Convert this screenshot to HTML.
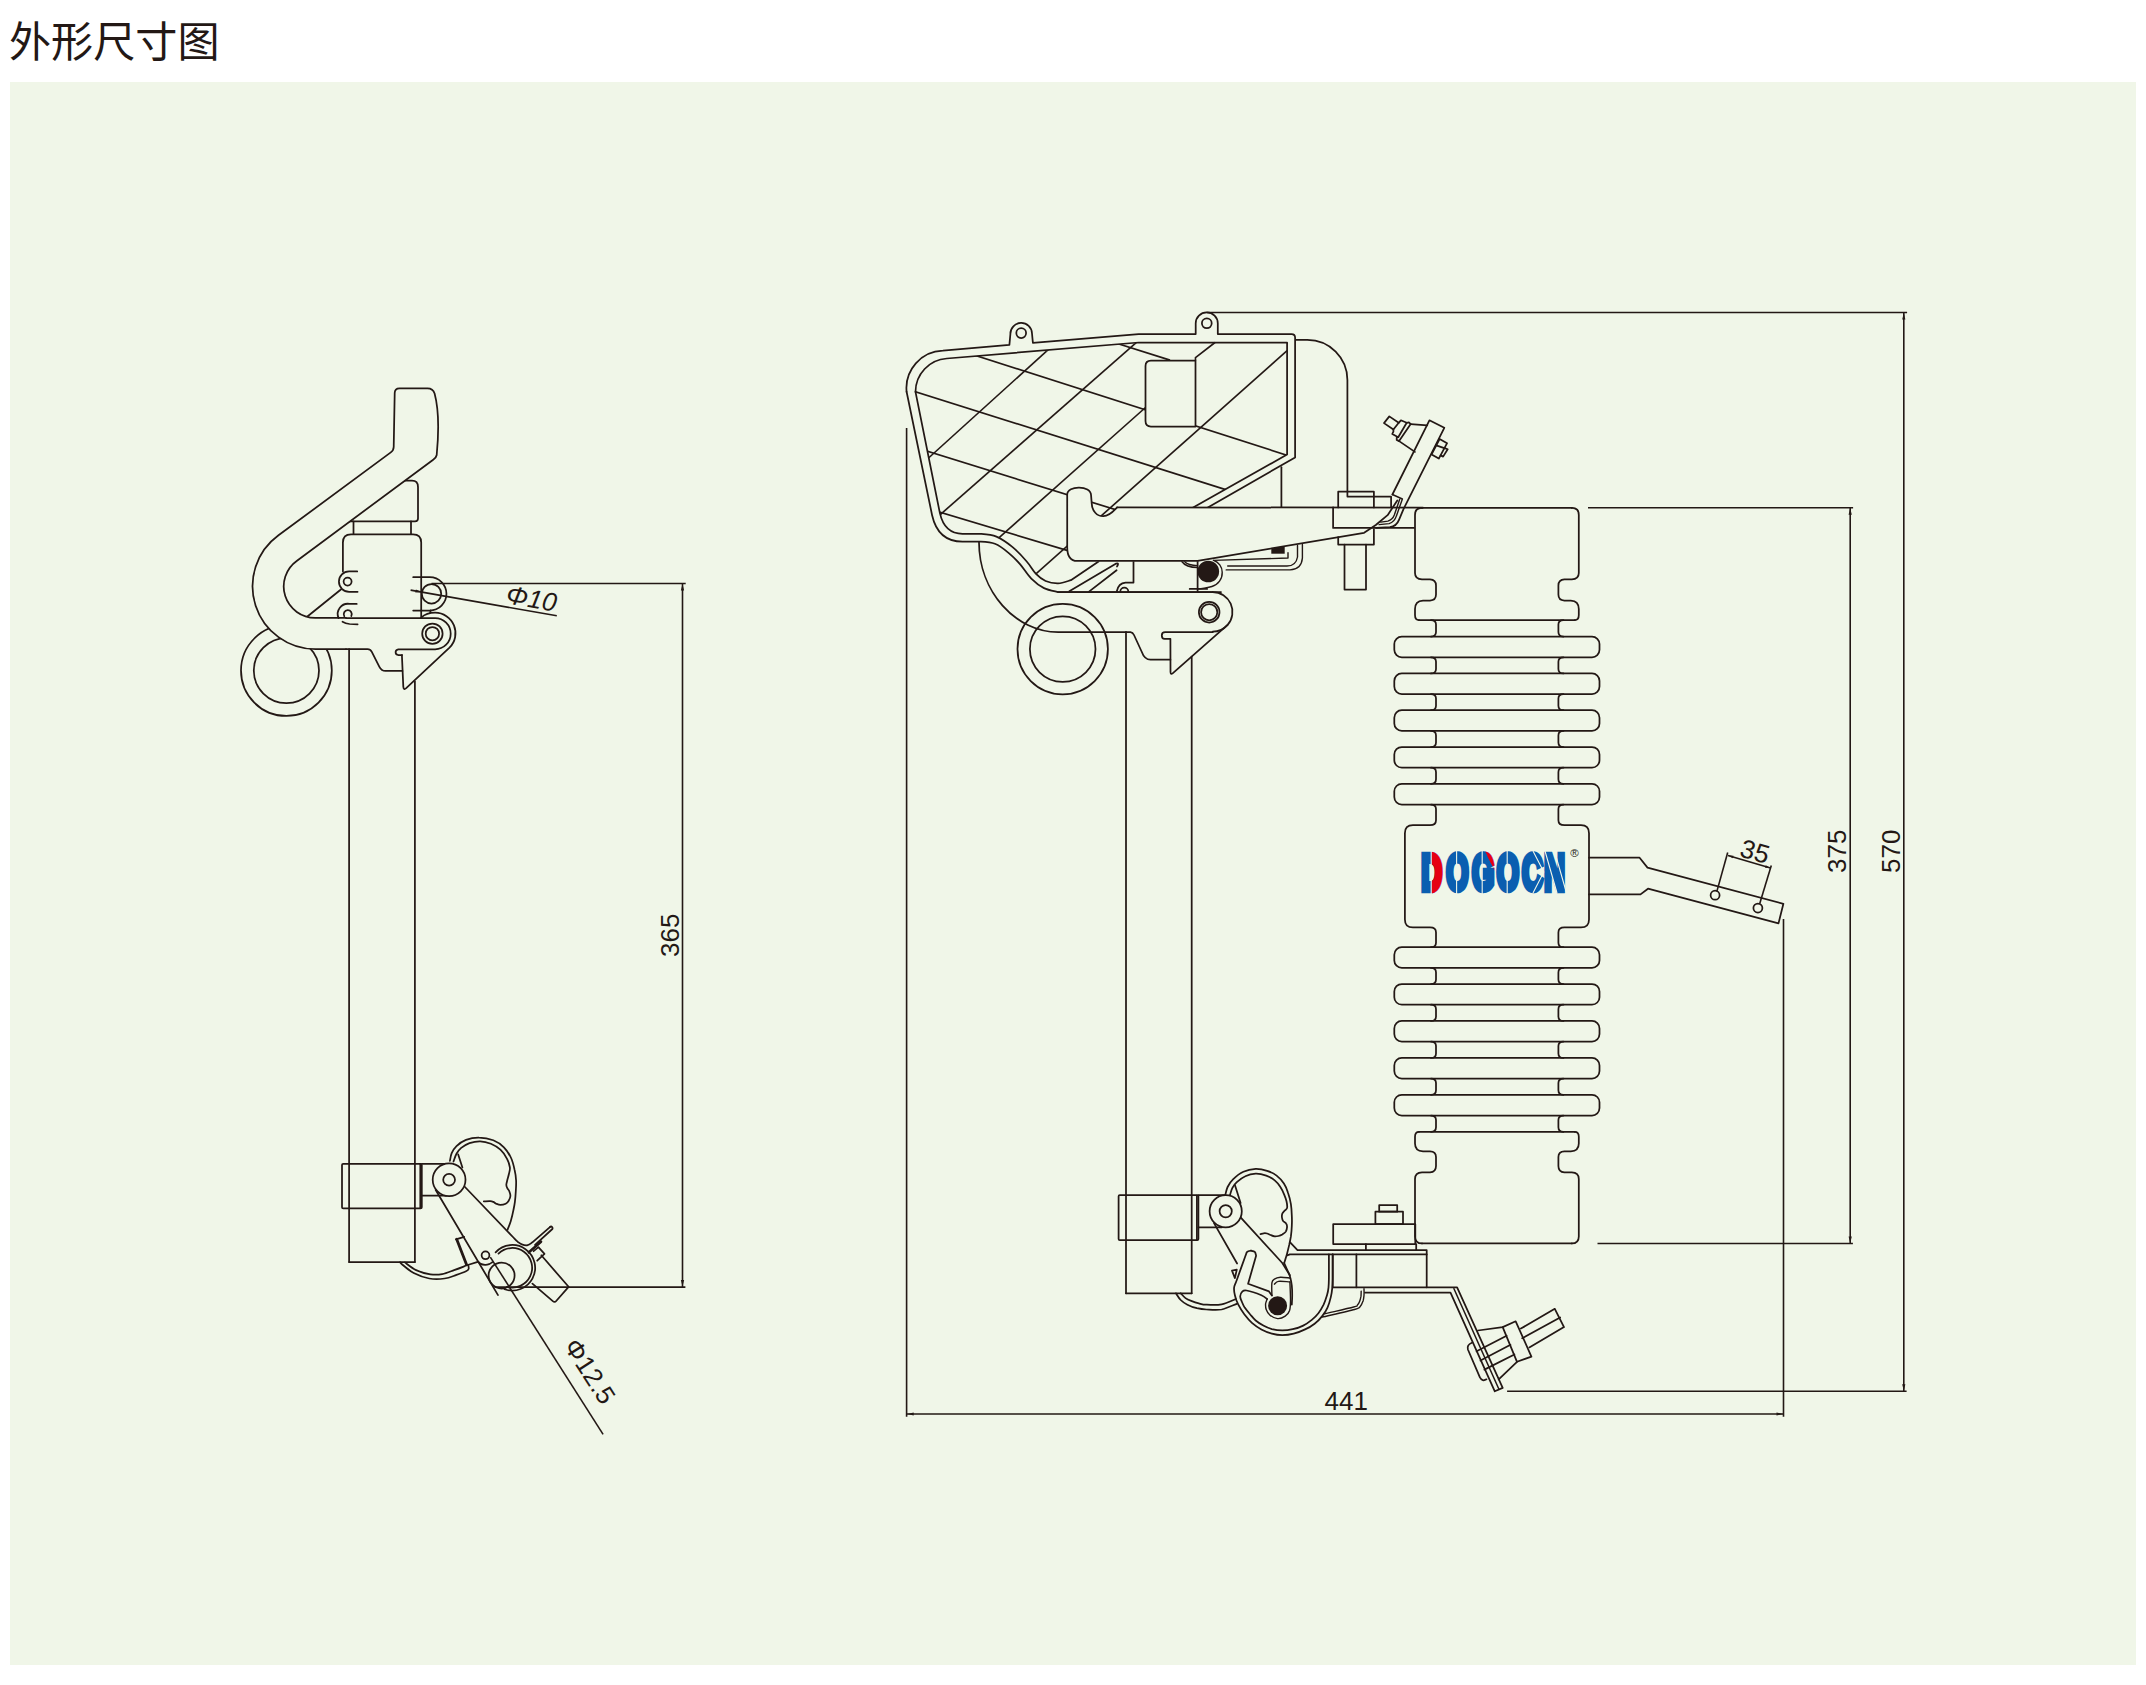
<!DOCTYPE html>
<html lang="zh-CN">
<head>
<meta charset="utf-8">
<title>外形尺寸图</title>
<style>
html,body{margin:0;padding:0;background:#fff;}
body{width:2146px;height:1685px;overflow:hidden;position:relative;font-family:"Liberation Sans","Noto Sans CJK SC",sans-serif;}
h1{position:absolute;left:9px;top:12.8px;margin:0;font-size:42.1px;line-height:60px;font-weight:400;color:#231815;letter-spacing:0;white-space:nowrap;font-family:"Liberation Sans","Noto Sans CJK SC",sans-serif;}
.panel{position:absolute;left:10.4px;top:82.2px;width:2125.8px;height:1583px;background:#f0f6e8;}
svg{position:absolute;left:0;top:0;}
.l{fill:none;stroke:#231815;stroke-width:1.75;stroke-linecap:round;stroke-linejoin:round;}
.w{fill:#f0f6e8;stroke:#231815;stroke-width:1.75;stroke-linecap:round;stroke-linejoin:round;}
.n{fill:#f0f6e8;stroke:none;}
.h{fill:none;stroke:#231815;stroke-width:1.65;}
.d{fill:none;stroke:#231815;stroke-width:1.6;}
.th{fill:none;stroke:#231815;stroke-width:1.4;stroke-linecap:round;stroke-linejoin:round;}
.k{fill:#231815;stroke:none;}
.t{fill:#231815;font-family:"Liberation Sans",sans-serif;}
.lg{font-family:"Liberation Sans",sans-serif;font-weight:bold;stroke-linejoin:miter;}
</style>
</head>
<body>
<div class="panel"></div>
<h1>外形尺寸图</h1>
<svg width="2146" height="1685" viewBox="0 0 2146 1685">
<path class="l" d="M1422 507.9 Q1415 507.9 1415 514.9 V573 Q1415 579.2 1422 579.4 H1430 Q1436 579.6 1436 585.6 V594.6 Q1436 600.4 1430 600.6 H1423 Q1415 601 1415 609 V615 Q1415 620.1 1419 620.1"/>
<path class="l" d="M1571.8 507.9 Q1578.8 507.9 1578.8 514.9 V573 Q1578.8 579.2 1571.8 579.4 H1564.4 Q1558.4 579.6 1558.4 585.6 V594.6 Q1558.4 600.4 1564.4 600.6 H1570.8 Q1578.8 601 1578.8 609 V615 Q1578.8 620.1 1574.8 620.1"/>
<path class="l" d="M1422 507.9 L1571.8 507.9"/>
<path class="l" d="M1419 620.1 L1574.8 620.1"/>
<path class="l" d="M1431 620.1 Q1436 620.1 1436 624.6 V632.1 Q1436 636.6 1431 636.6"/>
<path class="l" d="M1563.4 620.1 Q1558.4 620.1 1558.4 624.6 V632.1 Q1558.4 636.6 1563.4 636.6"/>
<rect class="l" x="1394.3" y="636.6" width="205.2" height="20.7" rx="7.5"/>
<path class="l" d="M1431 657.3 Q1436 657.3 1436 661.8 V668.9 Q1436 673.4 1431 673.4"/>
<path class="l" d="M1563.4 657.3 Q1558.4 657.3 1558.4 661.8 V668.9 Q1558.4 673.4 1563.4 673.4"/>
<rect class="l" x="1394.3" y="673.4" width="205.2" height="20.7" rx="7.5"/>
<path class="l" d="M1431 694.1 Q1436 694.1 1436 698.6 V705.7 Q1436 710.2 1431 710.2"/>
<path class="l" d="M1563.4 694.1 Q1558.4 694.1 1558.4 698.6 V705.7 Q1558.4 710.2 1563.4 710.2"/>
<rect class="l" x="1394.3" y="710.2" width="205.2" height="20.7" rx="7.5"/>
<path class="l" d="M1431 730.9 Q1436 730.9 1436 735.4 V742.5 Q1436 747 1431 747"/>
<path class="l" d="M1563.4 730.9 Q1558.4 730.9 1558.4 735.4 V742.5 Q1558.4 747 1563.4 747"/>
<rect class="l" x="1394.3" y="747" width="205.2" height="20.7" rx="7.5"/>
<path class="l" d="M1431 767.7 Q1436 767.7 1436 772.2 V779.3 Q1436 783.8 1431 783.8"/>
<path class="l" d="M1563.4 767.7 Q1558.4 767.7 1558.4 772.2 V779.3 Q1558.4 783.8 1563.4 783.8"/>
<rect class="l" x="1394.3" y="783.8" width="205.2" height="20.7" rx="7.5"/>
<path class="l" d="M1431 804.5 Q1436 804.5 1436 809 V820.2 Q1436 825.2 1430 825.2 H1412.9 Q1404.9 825.2 1404.9 833.2 V919.4 Q1404.9 927.4 1412.9 927.4 H1430 Q1436 927.4 1436 932.4 V942.7 Q1436 947.2 1431 947.2"/>
<path class="l" d="M1563.4 804.5 Q1558.4 804.5 1558.4 809 V820.2 Q1558.4 825.2 1564.4 825.2 H1581 Q1589 825.2 1589 833.2 V919.4 Q1589 927.4 1581 927.4 H1564.4 Q1558.4 927.4 1558.4 932.4 V942.7 Q1558.4 947.2 1563.4 947.2"/>
<rect class="l" x="1394.3" y="947.2" width="205.2" height="20.7" rx="7.5"/>
<path class="l" d="M1431 967.9 Q1436 967.9 1436 972.4 V979.5 Q1436 984 1431 984"/>
<path class="l" d="M1563.4 967.9 Q1558.4 967.9 1558.4 972.4 V979.5 Q1558.4 984 1563.4 984"/>
<rect class="l" x="1394.3" y="984" width="205.2" height="20.7" rx="7.5"/>
<path class="l" d="M1431 1004.7 Q1436 1004.7 1436 1009.2 V1016.4 Q1436 1020.9 1431 1020.9"/>
<path class="l" d="M1563.4 1004.7 Q1558.4 1004.7 1558.4 1009.2 V1016.4 Q1558.4 1020.9 1563.4 1020.9"/>
<rect class="l" x="1394.3" y="1020.9" width="205.2" height="20.7" rx="7.5"/>
<path class="l" d="M1431 1041.6 Q1436 1041.6 1436 1046.1 V1053.4 Q1436 1057.9 1431 1057.9"/>
<path class="l" d="M1563.4 1041.6 Q1558.4 1041.6 1558.4 1046.1 V1053.4 Q1558.4 1057.9 1563.4 1057.9"/>
<rect class="l" x="1394.3" y="1057.9" width="205.2" height="20.7" rx="7.5"/>
<path class="l" d="M1431 1078.6 Q1436 1078.6 1436 1083.1 V1090.3 Q1436 1094.8 1431 1094.8"/>
<path class="l" d="M1563.4 1078.6 Q1558.4 1078.6 1558.4 1083.1 V1090.3 Q1558.4 1094.8 1563.4 1094.8"/>
<rect class="l" x="1394.3" y="1094.8" width="205.2" height="20.7" rx="7.5"/>
<path class="l" d="M1431 1115.5 Q1436 1115.5 1436 1120 V1127.3 Q1436 1131.8 1431 1131.8"/>
<path class="l" d="M1419 1131.8 Q1415 1131.8 1415 1136.8 V1143.5 Q1415 1151 1423 1151.4 H1430 Q1436 1151.6 1436 1157 V1166 Q1436 1172 1430 1172.4 H1422 Q1415 1172.6 1415 1179 V1236.4 Q1415 1243.4 1422 1243.4"/>
<path class="l" d="M1563.4 1115.5 Q1558.4 1115.5 1558.4 1120 V1127.3 Q1558.4 1131.8 1563.4 1131.8"/>
<path class="l" d="M1574.8 1131.8 Q1578.8 1131.8 1578.8 1136.8 V1143.5 Q1578.8 1151 1570.8 1151.4 H1564.4 Q1558.4 1151.6 1558.4 1157 V1166 Q1558.4 1172 1564.4 1172.4 H1571.8 Q1578.8 1172.6 1578.8 1179 V1236.4 Q1578.8 1243.4 1571.8 1243.4"/>
<path class="l" d="M1419 1131.8 L1574.8 1131.8"/>
<path class="l" d="M1422 1243.4 L1571.8 1243.4"/>
<path class="l" d="M1589 857.7 H1639.6 L1647.5 867.6 L1783.4 903.8 L1778.5 923.4 L1648 888.7 L1640.5 894.4 H1589"/>
<circle class="l" cx="1715.1" cy="895.2" r="4.5"/>
<circle class="l" cx="1757.9" cy="908" r="4.5"/>
<defs><clipPath id="cr"><rect x="1431.6" y="846" width="13" height="50"/><path d="M1482.6 846 H1495 V871.5 Z"/></clipPath></defs>
<text transform="translate(1420.6 889.9) scale(0.565 1)" x="1 45.6 91.1 135 179.6 218.9" y="0" class="lg" font-size="50.6" stroke-width="5.4" vector-effect="non-scaling-stroke" fill="#0a5eb0" stroke="#0a5eb0">DOGOCN</text>
<g clip-path="url(#cr)"><text transform="translate(1420.6 889.9) scale(0.565 1)" x="1 45.6 91.1 135 179.6 218.9" y="0" class="lg" font-size="50.6" stroke-width="5.4" vector-effect="non-scaling-stroke" fill="#e60012" stroke="#e60012">DOGOCN</text></g>
<path d="M1431.2 849 V895" stroke="#f0f6e8" stroke-width="1.1" fill="none"/>
<path d="M1456.6 849 V895" stroke="#f0f6e8" stroke-width="1.1" fill="none"/>
<path d="M1482.2 849 V895" stroke="#f0f6e8" stroke-width="1.1" fill="none"/>
<path d="M1507.2 849 V895" stroke="#f0f6e8" stroke-width="1.1" fill="none"/>
<path d="M1533 851 L1543.8 872 L1533 893 M1545 851 L1557 893 M1554.5 851 L1566.5 893" stroke="#f0f6e8" stroke-width="1.1" fill="none"/>
<text x="1574.6" y="857.2" font-size="11.5" text-anchor="middle" class="t">®</text>
<circle class="l" cx="286.4" cy="670.6" r="45.4"/>
<circle class="l" cx="286.4" cy="670.6" r="32.6"/>
<path class="l" d="M404.5 480.7 H412 Q418 480.7 418 487 V518.6 Q418 521.4 415 521.4 H349"/>
<path class="l" d="M353.5 521.4 V533.8 M411 521.4 V533.8"/>
<path class="l" d="M342.9 571.4 V542.5 Q342.9 534.3 351 534.3 H413 Q421.2 534.3 421.2 542.5 V618.1"/>
<path class="l" d="M307.4 616.5 L341.2 589.3"/>
<path class="n" d="M393.7 447 Q393.6 450.4 390.8 452.4 L278.5 535.3 A62.9 62.9 0 0 0 315.5 649.1 H346 V617.9 H315.5 A31.5 31.5 0 0 1 297 560.7 L433.2 459.7 Q436.2 457.8 436.7 455 C438.8 433 439 410 434.6 393.5 Q433 388.3 427.5 388.3 H399.5 Q394.7 388.3 394.7 393 L393.7 447 Z"/>
<path class="l" d="M346 649.1 H315.5 A62.9 62.9 0 0 1 278.5 535.3 L390.8 452.4 Q393.6 450.4 393.7 447 L394.7 393 Q394.7 388.3 399.5 388.3 H427.5 Q433 388.3 434.6 393.5 C439 410 438.8 433 436.7 455 Q436.2 457.8 433.2 459.7 L297 560.7 A31.5 31.5 0 0 0 315.5 617.9 H346"/>
<path class="l" d="M346 618.1 H435.1 A15.6 15.6 0 0 1 435.1 649.3 H398.3 Q395.6 649.6 395.6 652.3 Q395.6 655 398.5 655 H402"/>
<path class="l" d="M421.2 617.6 C424 615 428.5 612.7 435.1 612.7 A20.5 20.5 0 0 1 449.5 647.7 L406.2 688.2 Q403.6 690.4 403.3 686.6 L401.9 655"/>
<circle class="l" cx="432.4" cy="633.7" r="10.2"/>
<circle class="l" cx="432.4" cy="633.7" r="6.7"/>
<path class="l" d="M346 649.1 H367.5 Q370.3 649.1 371.8 651.8 L379.4 666.8 Q381.5 670.9 385.5 670.9 H402.4"/>
<path class="l" d="M357.2 571.4 H349.1 A10.2 10.2 0 0 0 349.1 591.8 H357.6"/>
<circle class="l" cx="347.6" cy="581.6" r="4"/>
<path class="l" d="M356.7 603.9 H349.5 A10.2 10.2 0 0 0 338.6 618.1"/>
<path class="l" d="M342.5 621.7 Q345.5 623.6 349.6 624 L357.6 624.3"/>
<path class="l" d="M351.3 616 A4 4 0 1 0 344.3 616.2"/>
<path class="l" d="M413.2 577.2 H429.8 A16.65 16.65 0 0 1 429.8 610.5 H413.2"/>
<path class="l" d="M430.6 610.5 L430.2 612.6"/>
<circle class="l" cx="431.5" cy="593.8" r="9.7"/>
<path class="l" d="M349.1 649.1 L349.1 1262"/>
<path class="l" d="M414.9 681.5 L414.9 1262"/>
<path class="l" d="M349.1 1262 L414.9 1262"/>
<rect class="l" x="342" y="1163.9" width="79.8" height="44.5" rx="1.2"/>
<path class="l" d="M420.3 1164.5 L420.3 1208"/>
<path class="l" d="M421.8 1163.9 L449 1163.9"/>
<path class="l" d="M421.8 1195.7 L446 1195.7"/>
<path class="l" d="M449.9 1160.9 C450.2 1159.7 450.6 1155.7 451.7 1153.2 C452.8 1150.8 454.1 1148.3 456.5 1146.1 C458.8 1143.9 462.2 1141.4 466 1139.9 C469.7 1138.5 474.5 1137.5 479 1137.6 C483.6 1137.6 489.1 1138.6 493.3 1140.2 C497.4 1141.8 501 1144.3 503.9 1147.3 C506.9 1150.3 509.3 1154.2 511.1 1158 C512.8 1161.7 513.8 1166.1 514.6 1169.9 C515.5 1173.6 515.9 1177 516.1 1180.5 C516.3 1184.1 516 1187.7 515.8 1191.2 C515.6 1194.8 515.3 1198.7 514.9 1201.9 C514.5 1205.1 514.1 1207 513.4 1210.2 C512.8 1213.4 511.8 1217.6 510.8 1220.9 C509.8 1224.2 508.1 1228.3 507.5 1229.8"/>
<path class="l" d="M453.5 1161.5 C454 1160.3 455.2 1156.1 456.5 1153.8 C457.8 1151.6 459 1149.7 461.2 1147.9 C463.4 1146.1 466.4 1144.2 469.5 1143.1 C472.7 1142.1 476.6 1141.3 480.2 1141.4 C483.8 1141.5 487.5 1142.4 490.9 1143.7 C494.3 1145.1 497.7 1147.2 500.4 1149.7 C503.1 1152.1 505.3 1155.6 506.9 1158.6 C508.5 1161.5 509.5 1164.9 509.9 1167.5 C510.2 1170 509.3 1172 508.9 1174 C508.5 1176 507.9 1177.6 507.5 1179.3 C507.1 1181.1 506.4 1183.2 506.3 1184.7 C506.3 1186.2 506.8 1187.2 507.3 1188.2 C507.8 1189.3 508.8 1189.9 509.3 1191.2 C509.8 1192.5 510.5 1194.4 510.4 1196 C510.3 1197.5 509.5 1199.4 508.7 1200.7 C507.9 1202 507.1 1203 505.7 1203.7 C504.3 1204.4 502 1204.9 500.4 1204.9 C498.8 1204.9 497.4 1204.2 496.2 1203.7 C495 1203.2 494.3 1202.3 493.3 1201.9 C492.3 1201.5 491.9 1201.3 490.3 1201.2 C488.7 1201.1 484.9 1201.3 483.8 1201.3"/>
<path class="l" d="M458.2 1154.4 L462.4 1167.5"/>
<path class="l" d="M435.7 1190 L498 1295.1"/>
<path class="l" d="M464.5 1186.5 L513.4 1237.5  C514.1 1238.2 516.2 1240.5 517.6 1241.7 C519 1242.8 520.1 1243.8 521.8 1244.4 C523.4 1245 525.9 1245.6 527.7 1245.2 C529.5 1244.9 531.6 1242.7 532.4 1242.3 L550.2 1226.8"/>
<path class="l" d="M535 1244.9 L552.4 1229 A1.6 1.6 0 0 0 550.2 1226.8"/>
<path class="l" d="M528.9 1252.3 L541 1241.7" style="stroke-width:2.6"/>
<path class="l" d="M533.6 1251.2 L538.4 1247.2 L544.5 1253.9 L537.2 1260.7"/>
<path class="l" d="M541.3 1255.3 L568.6 1286.8 L556.2 1301 Q554.7 1302.8 552.8 1301.2 L532.4 1283.6"/>
<circle class="w" cx="449.1" cy="1179.7" r="16.4"/>
<circle class="l" cx="449.1" cy="1179.7" r="5.9"/>
<path class="l" d="M400.1 1262.2 C400.4 1262.5 399.6 1262.4 401.9 1264.2 C404.1 1266 409.2 1270.7 413.7 1273.1 C418.3 1275.5 424 1277.6 429.2 1278.5 C434.3 1279.3 440 1279.1 444.6 1278.5 C449.1 1277.9 452.9 1276.1 456.5 1274.9 C460 1273.7 463.9 1272.3 466 1271.3 C468 1270.3 468.2 1270 468.6 1269 C469 1268 468.4 1266 468.3 1265.4"/>
<path class="l" d="M404.8 1262.4 C406.7 1263.7 411.9 1268.2 416.1 1270.1 C420.4 1272.1 426 1273.6 430.4 1274.3 C434.7 1275 438.3 1274.8 442.2 1274.1 C446.2 1273.4 450.5 1271.4 454.1 1270.1 C457.7 1268.9 461.6 1267.4 463.6 1266.6 C465.6 1265.8 465.6 1265.6 466 1265.4"/>
<path class="l" d="M455.9 1239.3 L464.2 1236.9"/>
<path class="l" d="M456.7 1239.3 L466.6 1264.8" style="stroke-width:2.8"/>
<path class="l" d="M467.7 1265 L477.8 1261.8"/>
<circle class="l" cx="485.5" cy="1255.3" r="3.9"/>
<path class="l" d="M478.4 1261.8 C478.8 1262.2 479.7 1263.4 480.8 1263.9 C481.9 1264.4 483.6 1264.7 485 1264.8 C486.3 1264.9 487.9 1264.6 489.1 1264.2 C490.3 1263.8 491.8 1262.5 492.3 1262.2"/>
<circle class="l" cx="501.6" cy="1275.5" r="13"/>
<path class="l" d="M495.6 1252.3 A22.8 22.8 0 1 1 504.5 1289.2"/>
<path class="l" d="M498.5 1253.6 A19.8 19.8 0 1 1 506.8 1286.8"/>
<path class="l" d="M1295.5 339.9 H1307.3 A40.1 40.1 0 0 1 1347.4 380 V496.6 H1372.9"/>
<path class="l" d="M979 542.2 C979 591.3 1015.4 632.2 1058.2 632.2 H1126"/>
<path class="n" d="M906.6 391.8 A37.5 37.5 0 0 1 942.9 350.7 L1009.4 344.8 L1010.4 334 A10.8 10.8 0 0 1 1032 333.5 L1032.9 342.9 L1138.7 334.1 H1195.7 V323.5 A11.05 11.05 0 0 1 1217.8 323.5 V334.1 H1291.5 Q1295.1 334.1 1295.1 337.5 V457.4 L1207.4 507.7 L1117 507.7 L1098.6 561.5 L1070.9 580.2 L1058.2 592.1 L1058.2 592.1 L1044 588.1 L1031.3 578.6 L1020.2 564.4 L1009.1 553.3 L994.9 543.8 L979 541.4 L962.5 541.6 Q938 541.6 932.1 515.2 Z"/>
<path class="l" d="M906.6 391.8 A37.5 37.5 0 0 1 942.9 350.7 L1009.4 344.8 L1010.4 334 A10.8 10.8 0 0 1 1032 333.5 L1032.9 342.9 L1138.7 334.1 H1195.7 V323.5 A11.05 11.05 0 0 1 1217.8 323.5 V334.1 H1291.5 Q1295.1 334.1 1295.1 337.5 V457.4 L1207.4 507.7 "/>
<path class="l" d="M906.6 391.8 L932.1 515.2 Q938 541.6 962.5 541.6 H979  C981.7 541.8 989.8 541.8 994.9 543.8 C999.9 545.7 1004.9 549.8 1009.1 553.3 C1013.3 556.7 1016.5 560.1 1020.2 564.4 C1023.9 568.6 1027.3 574.7 1031.3 578.6 C1035.3 582.6 1039.5 585.9 1044 588.1 C1048.5 590.4 1055.8 591.4 1058.2 592.1 H1221"/>
<path class="l" d="M915.5 391.8 A33.5 33.5 0 0 1 946.8 358.5 L1138.7 342.5 H1287.1 V454.5 L1192.7 507.7"/>
<path class="l" d="M915.5 391.8 L939.9 513.2 Q944.5 533.8 962.5 533.8 H980.6  C983.2 534 991.2 534.4 996.4 536.6 C1001.7 538.9 1007.3 542.8 1012.3 546.9 C1017.3 551 1022.6 556.7 1026.5 561.2 C1030.5 565.7 1032.9 570.6 1036 573.9 C1039.2 577.2 1041.9 579.4 1045.6 581 C1049.2 582.6 1054 583.5 1058.2 583.4 C1062.5 583.2 1068.8 580.7 1070.9 580.2 L1098.6 561.5"/>
<path class="l" d="M1069.3 591.3 L1116.2 563.6 Q1119 562.4 1117.6 565.6 L1117 566.5"/>
<path class="l" d="M1089 591.6 L1116.6 570.2"/>
<circle class="l" cx="1021.2" cy="333.1" r="4.9"/>
<circle class="l" cx="1206.8" cy="323.3" r="4.9"/>
<defs><clipPath id="hc"><path d="M915.5 391.8 A33.5 33.5 0 0 1 946.8 358.5 L1138.7 342.5 H1287.1 V454.5 L1192.7 507.7 H1117 L1098.6 561.5 L1070.9 580.2 L1070.9 580.2 L1058.2 583.4 L1045.6 581 L1036 573.9 L1026.5 561.2 L1012.3 546.9 L996.4 536.6 L980.6 533.5 L962.5 533.8 Q944.5 533.8 939.9 513.2 Z"/></clipPath></defs>
<g clip-path="url(#hc)">
<path class="h" d="M917.5 468 L1046.6 351.1"/>
<path class="h" d="M922.6 530.1 L1134.8 343.8"/>
<path class="h" d="M986.1 549.2 L1145.5 407.5"/>
<path class="h" d="M1010.8 596.2 L1287.1 350.7"/>
<path class="h" d="M1083.3 594.5 L1132.8 561.2"/>
<path class="h" d="M1046.6 351.1 L1060 339"/>
<path class="h" d="M1134.8 343.8 L1142 337.5"/>
<path class="h" d="M954.7 348.8 L1296.7 458.4"/>
<path class="h" d="M890.9 384 L1235.2 492.6"/>
<path class="h" d="M913.6 447 L1118.6 510.6"/>
<path class="h" d="M929.7 509.1 L1072.8 552.1"/>
<path class="h" d="M1114.1 342.5 L1170 360.1"/>
</g>
<path class="w" d="M1195.5 360.5 H1151 Q1145.5 360.5 1145.5 366 V421 Q1145.5 426.5 1151 426.5 H1195.5 Z"/>
<path class="h" d="M1195.5 360.5 V357.6 L1215 342.5"/>
<path class="l" d="M1281.4 467.2 L1281.4 507.4"/>
<circle class="l" cx="1062.7" cy="649.1" r="45.2"/>
<circle class="l" cx="1062.7" cy="649.1" r="32.8"/>
<path class="l" d="M1058.2 592.1 L1212.7 592.1"/>
<path class="l" d="M1212.7 592.1 A19.8 19.8 0 0 1 1227.6 624.9 L1172.6 673.4 Q1170.6 675 1170.5 672 L1170.4 638.8 H1164.6 Q1161.8 638.8 1161.8 635.4 Q1161.8 632.2 1165.2 632.2 H1212.7"/>
<path class="l" d="M1212.7 631.7 A19.8 19.8 0 0 0 1227.6 624.9"/>
<circle class="l" cx="1209.2" cy="612.2" r="10.3"/>
<circle class="l" cx="1209.2" cy="612.2" r="8.1"/>
<path class="l" d="M1126 632.2 H1130.5 Q1132.8 632.4 1134 635 L1141.6 651.5 Q1144.5 659.7 1150.5 659.7 H1170.4"/>
<path class="l" d="M1133.5 560.9 V582.6 H1125.5 Q1118.5 583 1116.8 591.3"/>
<path class="l" d="M1120.3 591.6 A4 4 0 0 1 1128.3 591.6"/>
<path class="th" d="M1213.5 560.4 A12.5 12.5 0 0 1 1222.2 572.3 A14 14 0 0 1 1211.9 586.5 Q1203 589 1197.6 588.9"/>
<circle class="k" cx="1208.3" cy="571.5" r="10.8"/>
<path class="l" d="M1197.6 556.4 L1197.6 591.3"/>
<path class="l" d="M1189.7 588.9 L1207.1 588.9"/>
<path class="th" d="M1181.8 561.5 Q1186 567.5 1197.6 567.5 M1184.5 561.5 Q1188 565.5 1197.6 565.6"/>
<path class="th" d="M1227.7 566 H1287 Q1296 566 1297.5 557 L1297.5 545.5"/>
<path class="th" d="M1226.2 569.9 H1290 Q1301.5 569.5 1302.4 558 L1302.4 544.5"/>
<path class="th" d="M1213.5 560.4 L1288 558 V552.8"/>
<path class="k" d="M1271.3 546.5 H1284.7 V553.7 H1271.3 Z"/>
<path class="l" d="M1126 632.2 L1126 1293.3"/>
<path class="l" d="M1191.7 656.5 L1191.7 1293.3"/>
<path class="l" d="M1126 1293.3 L1191.7 1293.3"/>
<path class="n" d="M1067.2 494.6 C1067.2 485 1091.1 485 1091.1 495.6 L1091.7 503.4 C1092 511 1097 516.4 1103.4 516.2 C1110 516 1113.5 511 1117.1 507.4 H1413 V528 H1376 L1364.1 532.8 L1197.6 561.2 H1077.2 Q1067.2 560.9 1067.2 546.9 Z"/>
<path class="l" d="M1117.1 507.4 C1113.5 511 1110 516 1103.4 516.2 C1097 516.4 1092 511 1091.7 503.4 L1091.1 495.6 C1091.1 485 1067.2 485 1067.2 494.6 V546.9 Q1067.2 560.9 1077.2 560.9 H1197.6 L1364.1 532.8 L1375.8 525 L1387.6 515.2 L1397.3 500.5"/>
<path class="l" d="M1117.1 507.4 L1423 507.6"/>
<path class="l" d="M1338.2 507.4 V491.7 H1373.9 V507.4"/>
<path class="l" d="M1373.9 496.6 H1391.1 V507.4"/>
<path class="l" d="M1333.1 507.4 V527.9 H1414"/>
<path class="l" d="M1338.2 537 V544.5 H1373.9 V529"/>
<path class="l" d="M1344.5 544.5 V589.6 H1366 V544.5"/>
<path class="l" d="M1392.4 494.5 L1429.4 420.3 L1444.3 427.8 L1403.6 508.8 L1399.1 519.6 Q1396.6 526.2 1389.9 527.2 L1376 527.9"/>
<path class="th" d="M1392.4 494.5 L1402.4 499 L1396.4 515.9 Q1394.5 522.1 1389.1 523.6 L1379.1 524.6"/>
<path class="th" d="M1399.7 499.3 L1394.3 515 Q1392.6 519.6 1387.9 521.1 L1380.8 522.1"/>
<path class="l" d="M1439.6 439 L1447.1 443.2 L1438.8 458.6 L1431.6 454.4 Z"/>
<path class="l" d="M1436.2 445.3 L1445 448.4"/>
<path class="l" d="M1445.2 448.2 L1447.7 449.3 L1443.1 456.6 L1440.6 455.4"/>
<path class="l" d="M1389.3 416.4 L1398.7 422.8 L1393.4 429.5 L1384 423.1 Z"/>
<path class="l" d="M1398.7 422.8 L1400.9 420.3 L1406.7 422.8 L1398.2 437.2 L1392.3 433.9 L1393.4 431.7 L1393.4 429.5"/>
<path class="l" d="M1406.7 422.8 L1408.9 422.3 L1410.7 424.1 L1399.1 441.1 L1396.7 439.9 L1396.7 437.8 L1398.2 437.2"/>
<path class="l" d="M1410.7 424.1 L1427.3 425.3"/>
<path class="l" d="M1399.1 441.1 L1414.9 451.9"/>
<rect class="l" x="1118.6" y="1195.1" width="79.8" height="45.1" rx="1.2"/>
<path class="l" d="M1196.9 1195.7 L1196.9 1239.8"/>
<path class="l" d="M1198.4 1195.1 L1225.4 1195.1"/>
<path class="l" d="M1198.4 1227.4 L1221.6 1227.4"/>
<path class="l" d="M1225.4 1194.6 C1225.7 1193.3 1226.4 1189.5 1227.6 1187 C1228.9 1184.4 1230.3 1181.9 1233 1179.4 C1235.6 1176.9 1239.6 1173.5 1243.4 1171.8 C1247.2 1170 1251.8 1169.1 1255.7 1168.9 C1259.7 1168.8 1263.7 1169.7 1267.1 1170.8 C1270.6 1171.9 1273.9 1173.5 1276.6 1175.6 C1279.4 1177.7 1282 1180.7 1283.9 1183.6 C1285.8 1186.4 1286.9 1189.3 1288 1192.7 C1289.2 1196.1 1290.3 1200.3 1290.9 1204.1 C1291.5 1207.9 1291.7 1211.8 1291.8 1215.5 C1292 1219.1 1292 1222.4 1291.8 1225.9 C1291.7 1229.4 1291.3 1233.2 1290.9 1236.4 C1290.4 1239.5 1289.8 1242.1 1289.2 1244.9 C1288.5 1247.8 1287.9 1250.4 1287.1 1253.5 C1286.3 1256.5 1284.7 1261.4 1284.2 1263"/>
<path class="l" d="M1230.1 1194.6 C1230.5 1193.5 1231.3 1190 1232.4 1187.9 C1233.5 1185.9 1234.6 1184.2 1236.8 1182.2 C1238.9 1180.3 1242.1 1177.6 1245.3 1176.2 C1248.5 1174.7 1252.3 1173.8 1255.7 1173.7 C1259.2 1173.6 1263 1174.5 1266.2 1175.6 C1269.4 1176.7 1272.4 1178.4 1274.7 1180.3 C1277.1 1182.2 1278.9 1184.6 1280.4 1187 C1282 1189.4 1283.2 1192.2 1284.2 1194.6 C1285.2 1197 1286 1199 1286.5 1201.2 C1287 1203.4 1287.4 1206.3 1287.1 1207.9 C1286.8 1209.5 1285.4 1209.8 1284.6 1210.7 C1283.8 1211.7 1282.8 1212.4 1282.3 1213.6 C1281.9 1214.7 1281.8 1216.5 1282 1217.7 C1282.1 1219 1282.6 1220.2 1283.3 1221.2 C1284 1222.1 1285.5 1222.5 1286.1 1223.4 C1286.8 1224.4 1287.1 1225.5 1287.1 1226.9 C1287 1228.2 1286.5 1230.3 1285.8 1231.6 C1285 1232.9 1283.5 1233.7 1282.3 1234.5 C1281.1 1235.2 1279.8 1235.7 1278.5 1236 C1277.3 1236.3 1276.1 1236.5 1274.7 1236.4 C1273.4 1236.2 1271.8 1235.5 1270.6 1235 C1269.3 1234.6 1268.3 1233.8 1267.1 1233.5 C1266 1233.2 1264.8 1233.2 1263.7 1233.3 C1262.6 1233.4 1261 1234 1260.5 1234.1"/>
<path class="l" d="M1234.9 1185.1 L1240.6 1203.1"/>
<path class="l" d="M1284.2 1263 C1284.7 1264.1 1286.1 1267.4 1287.1 1269.6 C1288 1271.8 1289.1 1273.6 1289.9 1276.2 C1290.7 1278.9 1291.5 1282.6 1291.8 1285.7 C1292.2 1288.9 1292.2 1292.1 1292.2 1295.2 C1292.2 1298.4 1291.9 1303.2 1291.8 1304.7"/>
<path class="l" d="M1214 1223.1 L1237.1 1263.5"/>
<path class="l" d="M1240.6 1217.4 L1282.3 1263 L1289.9 1275.3"/>
<circle class="w" cx="1225.7" cy="1211.3" r="16.1"/>
<circle class="l" cx="1225.7" cy="1211.3" r="6.1"/>
<path class="l" d="M1176 1293.3 C1176.8 1294.5 1178.8 1298.1 1180.7 1300 C1182.6 1301.9 1184.7 1303.4 1187.4 1304.7 C1190.1 1306.1 1193.7 1307.4 1196.9 1308.2 C1200 1308.9 1202.2 1309.3 1206.4 1309.5 C1210.5 1309.7 1216.5 1310.4 1221.6 1309.5 C1226.6 1308.5 1234.2 1304.7 1236.8 1303.8"/>
<path class="l" d="M1180.7 1293.3 C1181.5 1294.1 1183.7 1296.8 1185.5 1298.1 C1187.2 1299.4 1189 1300.1 1191.2 1300.9 C1193.4 1301.8 1196.2 1302.8 1198.8 1303.4 C1201.3 1304 1202.6 1304.6 1206.4 1304.7 C1210.2 1304.9 1216.7 1305.3 1221.6 1304.4 C1226.5 1303.4 1233.4 1299.9 1235.8 1299"/>
<path class="l" d="M1232 1270.6 L1236.8 1269.6 L1234.9 1278.1 Z"/>
<path class="l" d="M1251 1250.6 C1250.4 1250.8 1248.1 1251 1247.2 1251.9 C1246.2 1252.9 1247 1251.6 1245.3 1256.3 C1243.6 1261 1238.6 1274.8 1236.8 1280 C1234.9 1285.3 1234.4 1285.1 1234.1 1287.6 C1233.8 1290.2 1234.2 1292.4 1234.9 1295.2 C1235.5 1298.1 1236.7 1301.6 1238.3 1304.7 C1239.9 1307.9 1242.1 1311.2 1244.3 1314.2 C1246.6 1317.2 1249.1 1320.3 1251.9 1322.8 C1254.8 1325.3 1258.1 1327.6 1261.4 1329.4 C1264.8 1331.2 1268.4 1332.7 1271.9 1333.6 C1275.4 1334.6 1278.7 1335.1 1282.3 1335.1 C1286 1335.1 1289.9 1334.6 1293.7 1333.6 C1297.5 1332.7 1301.6 1331.1 1305.1 1329.4 C1308.6 1327.8 1311.8 1325.9 1314.6 1323.7 C1317.5 1321.5 1320.1 1318.8 1322.2 1316.1 C1324.4 1313.4 1326.1 1310.8 1327.5 1307.6 C1329 1304.4 1330 1300.5 1330.8 1297.1 C1331.6 1293.8 1332 1290.8 1332.3 1287.6 C1332.6 1284.5 1332.6 1283.7 1332.7 1278.1 C1332.7 1272.6 1332.7 1258.4 1332.7 1254.4"/>
<path class="l" d="M1328.9 1254.4 C1328.9 1258.4 1328.9 1272.6 1328.9 1278.1 C1328.8 1283.7 1328.8 1284.8 1328.5 1287.6 C1328.2 1290.5 1327.8 1292.4 1327 1295.2 C1326.1 1298.1 1325 1301.7 1323.6 1304.7 C1322.1 1307.7 1320.4 1310.8 1318.4 1313.3 C1316.5 1315.8 1314.3 1317.9 1311.8 1319.9 C1309.2 1322 1306.4 1324.1 1303.2 1325.6 C1300.1 1327.2 1296.3 1328.4 1292.8 1329.2 C1289.3 1330 1285.8 1330.4 1282.3 1330.4 C1278.9 1330.3 1275.1 1329.8 1271.9 1329.1 C1268.7 1328.3 1266 1327.1 1263.3 1325.6 C1260.7 1324.2 1258 1322.4 1255.7 1320.5 C1253.5 1318.6 1251.9 1316.4 1250 1314.2 C1248.2 1312.1 1246.2 1309.8 1244.7 1307.6 C1243.3 1305.4 1242.3 1302.8 1241.5 1300.9 C1240.7 1299 1240.1 1297.7 1240.2 1296.2 C1240.3 1294.7 1241 1292.8 1242.1 1291.8 C1243.1 1290.9 1243.4 1289.9 1246.6 1290.5 C1249.9 1291.1 1258 1293.8 1261.4 1295.2 C1264.9 1296.7 1266.2 1298.4 1267.1 1299"/>
<path class="l" d="M1251 1250.6 C1251.6 1250.8 1253.9 1251.1 1254.8 1251.9 C1255.7 1252.8 1255.9 1255.1 1256.1 1255.7 L1248.1 1283.8 L1269 1291.4 L1271.9 1295.6"/>
<path class="th" d="M1267.1 1299 C1266.9 1299.8 1265.8 1302 1265.6 1303.8 C1265.5 1305.5 1265.5 1307.6 1266.2 1309.5 C1266.9 1311.4 1268.1 1313.7 1270 1315.2 C1271.9 1316.7 1275.1 1318.4 1277.6 1318.6 C1280.1 1318.8 1283.2 1317.5 1285.2 1316.1 C1287.2 1314.8 1288.7 1313 1289.6 1310.4 C1290.4 1307.9 1290.4 1305.7 1290.5 1300.9 C1290.6 1296.2 1290 1285.1 1289.9 1281.9"/>
<path class="th" d="M1271.9 1295.6 C1271.9 1293.5 1271.5 1285.7 1271.9 1282.9 C1272.3 1280.1 1272.9 1280 1274.4 1279.1 C1275.8 1278.1 1277.7 1277.4 1280.4 1277.2 C1283.1 1277 1288.8 1278 1290.5 1278.1"/>
<path class="th" d="M1274.4 1284.2 C1275.1 1283.8 1275.9 1281.8 1278.5 1281.4 C1281.1 1281 1288 1281.9 1289.9 1281.9"/>
<circle class="k" cx="1277.6" cy="1305.7" r="9.5"/>
<path class="l" d="M1289.9 1242.1 L1297.5 1250.2 H1426.7 V1287.3"/>
<path class="l" d="M1287.1 1255.4 L1289.9 1254.4 H1426.7"/>
<rect class="l" x="1333.2" y="1224" width="82.1" height="20"/>
<rect class="l" x="1375.4" y="1211.7" width="27.6" height="12.3"/>
<rect class="l" x="1379.2" y="1205" width="18" height="6.7"/>
<path class="l" d="M1365.9 1244 V1250.2 M1416.2 1244 V1250.2"/>
<path class="l" d="M1356.4 1254.4 L1356.4 1287.3"/>
<path class="l" d="M1332.7 1254.4 L1332.7 1287.3"/>
<path class="l" d="M1332.7 1287.3 H1457.1 L1502.7 1387.9 L1494.8 1391.3 L1450.5 1292.6 H1365"/>
<path class="th" d="M1453.9 1288.6 L1499 1389.4"/>
<path class="th" d="M1364 1288.6 C1364 1289.7 1364.2 1293.2 1364 1295.2 C1363.8 1297.3 1363.7 1299 1363.1 1300.9 C1362.4 1302.8 1361.6 1305.2 1360.2 1306.6 C1358.8 1308.1 1360.8 1307.7 1354.5 1309.5 C1348.2 1311.2 1327.6 1315.8 1322.2 1317.1"/>
<path class="th" d="M1361.2 1291.1 C1361.1 1291.9 1361.2 1294.5 1361 1296.2 C1360.7 1297.8 1360.4 1299.5 1359.8 1300.9 C1359.2 1302.4 1358.4 1304.1 1357.4 1305.1 C1356.3 1306.1 1359.1 1305.6 1353.6 1307 C1348 1308.5 1329 1312.7 1324.1 1313.9"/>
<path class="l" d="M1477.9 1330.5 L1502.7 1327.1 L1515.7 1321.3 L1531.4 1356.6 L1517 1361.8 L1498.7 1379.3"/>
<path class="l" d="M1502.7 1327.1 L1517 1361.8"/>
<path class="l" d="M1520.9 1328.6 L1554.8 1308.8 L1564 1327.1 L1529.3 1347.4"/>
<path class="l" d="M1522.2 1338.3 L1560.1 1317.4"/>
<path class="l" d="M1476.6 1351.3 L1506.6 1335.7"/>
<path class="l" d="M1480.5 1360.5 L1510.5 1344.8"/>
<path class="l" d="M1484.4 1369.6 L1514.4 1354.5"/>
<path class="l" d="M1471.9 1342.7 Q1466.6 1344.8 1467.9 1349.5 L1479.9 1377.4 Q1482.3 1381.9 1486.5 1379.3"/>
<path class="d" d="M431.5 583.5 L685.7 583.5"/>
<path class="d" d="M494.5 1287.1 L685.4 1287.1"/>
<path class="d" d="M682.5 583.5 L682.5 1287.1"/>
<path class="k" d="M682.5 584 L684.1 590.5 L680.9 590.5 Z"/>
<path class="k" d="M682.5 1286.6 L680.9 1280.1 L684.1 1280.1 Z"/>
<text class="t" transform="translate(679.2 935.2) rotate(-90)" font-size="26" text-anchor="middle">365</text>
<path class="d" d="M410.6 590.1 L556.8 615.8"/>
<path class="k" d="M421.5 592 L415.3 592.4 L415.9 589.5 Z"/>
<text class="t" transform="translate(505 603) rotate(10)" font-size="26" text-anchor="start" font-style="italic">Φ10</text>
<path class="d" d="M490.3 1257.1 L603.1 1434.4"/>
<text class="t" transform="translate(563.1 1346) rotate(57.5)" font-size="26" text-anchor="start">Φ12.5</text>
<path class="d" d="M906.6 428 L906.6 1416.8"/>
<path class="d" d="M906.6 1414 L1783.5 1414"/>
<path class="d" d="M1783.5 918.9 L1783.5 1416.8"/>
<path class="k" d="M907.2 1414 L913.7 1412.4 L913.7 1415.6 Z"/>
<path class="k" d="M1783 1414 L1776.5 1415.6 L1776.5 1412.4 Z"/>
<text class="t" transform="translate(1346.2 1410.1) rotate(0)" font-size="26" text-anchor="middle">441</text>
<path class="d" d="M1206.8 312.5 L1907.1 312.5"/>
<path class="d" d="M1507.1 1391.3 L1906.6 1391.3"/>
<path class="d" d="M1903.8 312.5 L1903.8 1391.3"/>
<path class="k" d="M1903.8 313 L1905.4 319.5 L1902.2 319.5 Z"/>
<path class="k" d="M1903.8 1390.8 L1902.2 1384.3 L1905.4 1384.3 Z"/>
<text class="t" transform="translate(1899.8 851.3) rotate(-90)" font-size="26" text-anchor="middle">570</text>
<path class="d" d="M1588 507.7 L1853.1 507.7"/>
<path class="d" d="M1597.5 1243.5 L1852.9 1243.5"/>
<path class="d" d="M1850.2 507.7 L1850.2 1243.5"/>
<path class="k" d="M1850.2 508.2 L1851.8 514.7 L1848.6 514.7 Z"/>
<path class="k" d="M1850.2 1243 L1848.6 1236.5 L1851.8 1236.5 Z"/>
<text class="t" transform="translate(1846.2 851.3) rotate(-90)" font-size="26" text-anchor="middle">375</text>
<path class="d" d="M1716.8 891.6 L1727.7 852.5"/>
<path class="d" d="M1759.6 904.1 L1771.3 865.6"/>
<path class="d" d="M1728 855.5 L1770.5 868.1"/>
<path class="k" d="M1728.3 855.6 L1733.5 855.8 L1732.7 858.3 Z"/>
<path class="k" d="M1770.2 868 L1765 867.8 L1765.8 865.3 Z"/>
<text class="t" transform="translate(1752.4 860) rotate(16.5)" font-size="26" text-anchor="middle">35</text>
</svg>
</body>
</html>
